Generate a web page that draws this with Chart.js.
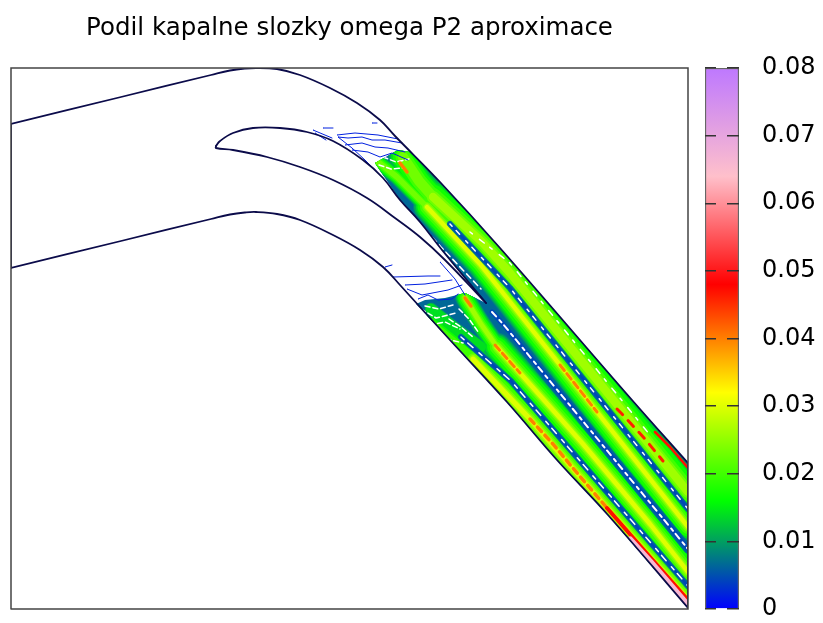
<!DOCTYPE html>
<html lang="en">
<head>
    <meta charset="UTF-8">
    <title>Podil kapalne slozky omega P2 aproximace</title>
    <script src="https://cdn.jsdelivr.net/npm/chart.js"></script>
    <style>
        body { margin: 0; background: #fff; }
        canvas { position: absolute; top: 0; }
        #plot { left: 0; }
        #colorbar { left: 690px; }
    </style>
</head>
<body>
<canvas id="plot" width="823" height="623"></canvas>
<canvas id="colorbar" width="133" height="623"></canvas>

<script>
    const chartTitle = 'Podil kapalne slozky omega P2 aproximace';

    // colour scale
    const paletteStops = [0, 0.016, 0.032, 0.048, 0.064, 0.08];
    const paletteColors = [[0, 0, 255], [0, 255, 0], [255, 255, 0], [255, 0, 0], [255, 192, 203], [190, 120, 255]];
    const scaleTicks = [0, 0.01, 0.02, 0.03, 0.04, 0.05, 0.06, 0.07, 0.08];

    // plot range, the picture has no axis numbers
    const rangeX = [0, 677];
    const rangeY = [0, 541];

    // geometry of the domain
    const topWall = [[0,485],[110,512],[200,534],[219,538.5],[234,540.5],[245,541],[266,540],[289,534],[319,521],[346,506],[369,489],[384,473],[429,427],[489,361],[621,209],[677,146]];
    const bottomWall = [[0,341],[110,368],[200,390],[219,394.5],[234,396.5],[245,397],[266,395],[289,389],[322,374],[349,359],[372,342],[389,324],[439,269],[496,207],[546,149],[597,94],[677,1]];
    const bladeTop = [[205,463],[209,468],[222,476],[242,481],[269,481],[296,477],[322,468],[352,449],[372,431],[389,409],[409,387],[431,359],[475,306]];
    const bladeBottom = [[475,306],[434,349],[409,372],[384,391],[356,411],[322,429],[289,442],[256,452],[222,459],[205,461],[205,463]];
    const inlet = [[0,485],[0,341]];
    const outlet = [[677,146],[677,1]];

    // part of the domain where the liquid fraction is not zero
    const wetZone = [[364,446],[387,459],[399,457],[429,427],[489,361],[621,209],[677,146],[677,1],[597,94],[546,149],[496,207],[439,269],[405,305],[414,309],[434,311],[454,316],[475,306],[431,359],[409,387],[389,409],[376,428],[364,446]];
    const wetValue = 0.0065;
    const troughValue = 0.0045;

    // ridges of the liquid fraction
    const ridge1Head = [[392,452],[408,428],[422,412]];
    const ridge1 = [[422,412],[472,366],[499,336],[677,117]];
    const ridge2Head = [[362,451],[386,432],[416,402]];
    const ridge2 = [[416,402],[469,345],[492,316],[677,82]];
    const ridge3Head = [[454,311],[470,285],[486,262]];
    const ridge3 = [[486,262],[572,165],[639,85],[677,37]];
    const ridge4Head = [[419,285],[440,268],[462,250]];
    const ridge4 = [[462,250],[519,190],[596,101],[677,9]];
    const ridgeMiddleHead = [[420,300],[445,280],[470,262]];

    const ridgePeaks = [0.027, 0.03, 0.03, 0.032];
    const headPeaks = [0.025, 0.024, 0.027, 0.02, 0.016];

    // hot streaks on the ridges
    const hotA = [[389,446],[396,437]];
    const hotB = [[454,311],[460,303]];
    const hotC = [[484,264],[509,236]];
    const hotD = [[549,244],[586,197]];
    const hotE = [[606,200],[611,195],[634,170],[652,148]];
    const hotF = [[519,190],[542,165],[561,142],[596,101]];
    const hotG = [[596,101],[632,60],[677,9]];
    const hotTopWall = [[644,177],[659,162],[677,141]];
    const hotCorner = [[619,69],[639,47],[677,3]];

    // holes between the contour lines
    const gapRidge1 = [[459,377],[499,346],[639,174]];
    const gap12 = [[439,385],[499,321],[677,100]];
    const gap23 = [[481,297],[492,285],[677,60]];
    const gap34 = [[450,272],[500,228],[677,23]];
    const gapBlade = [[380,415],[405,390],[430,362],[470,320]];
    const gapsHead = [
        [[372,452],[385,447],[398,450]],
        [[368,444],[380,440],[392,441]],
        [[410,300],[425,291],[445,296]],
        [[405,292],[418,284],[434,287],[449,280]],
        [[420,276],[436,270],[452,266]],
        [[438,290],[450,282],[462,272]],
        [[414,303],[428,300],[442,304]],
        [[448,300],[458,290],[468,276]]
    ];

    // loose low contours in front of the wet zone
    const contours = [
        [[326,474],[344,476],[367,474],[387,470]],
        [[327,472],[337,471],[351,472],[361,469],[374,469],[391,466]],
        [[327,472],[341,461],[354,449],[366,437]],
        [[334,464],[351,466],[364,462],[377,461],[394,457]],
        [[341,459],[357,457],[369,452],[381,456],[397,449]],
        [[312,481],[322,481]],
        [[302,479],[321,471]],
        [[304,476],[315,469]],
        [[361,486],[366,486]],
        [[374,342],[381,344]],
        [[382,332],[417,333],[429,333]],
        [[429,347],[444,330],[454,314]],
        [[394,324],[414,325],[441,329]],
        [[396,320],[411,314],[437,319],[451,324]],
        [[407,310],[417,314],[427,309],[441,310],[447,315]]
    ];

    const toPoints = pairs => pairs.map(p => ({ x: p[0], y: p[1] }));

    function rampColor(value) {
        let i = 0;
        while (i < paletteStops.length - 2 && value > paletteStops[i + 1]) i++;
        const t = (value - paletteStops[i]) / (paletteStops[i + 1] - paletteStops[i]);
        const c = paletteColors[i].map((a, k) => Math.round(a + (paletteColors[i + 1][k] - a) * t));
        return `rgb(${c[0]},${c[1]},${c[2]})`;
    }

    function line(pairs, color, width, extra) {
        return Object.assign({
            data: toPoints(pairs),
            showLine: true,
            borderColor: color,
            borderWidth: width,
            pointRadius: 0,
            tension: 0,
            fill: false,
            borderCapStyle: 'round',
            borderJoinStyle: 'round'
        }, extra || {});
    }

    const contourLevels = [0.008, 0.011, 0.014, 0.017, 0.02, 0.023, 0.026, 0.03, 0.034];
    const levelSpread = [1, 0.92, 0.8, 0.68, 0.5, 0.34, 0.23, 0.15, 0.08];

    const ridges = [
        { pairs: ridge1, peak: ridgePeaks[0], width: 36 },
        { pairs: ridge2, peak: ridgePeaks[1], width: 28 },
        { pairs: ridge3, peak: ridgePeaks[2], width: 29 },
        { pairs: ridge4, peak: ridgePeaks[3], width: 32 },
        { pairs: ridge1Head, peak: headPeaks[0], width: 30 },
        { pairs: ridge2Head, peak: headPeaks[1], width: 16 },
        { pairs: ridge3Head, peak: headPeaks[2], width: 20 },
        { pairs: ridge4Head, peak: headPeaks[3], width: 20 },
        { pairs: ridgeMiddleHead, peak: headPeaks[4], width: 13 }
    ];

    const datasets = [];
    datasets.push(line(wetZone, rampColor(wetValue), 0, { fill: 'shape', backgroundColor: rampColor(wetValue), wet: true }));

    // lowest level of all ridges first, so that they do not paint over each other
    contourLevels.forEach((level, i) => {
        ridges.forEach(r => {
            if (level <= r.peak) datasets.push(line(r.pairs, rampColor(level), r.width * levelSpread[i], { wet: true }));
        });
    });

    // blue valleys between the ridges
    datasets.push(line(gap12, rampColor(wetValue), 6, { wet: true }));
    datasets.push(line(gap23, rampColor(wetValue), 9, { wet: true }));
    datasets.push(line(gap34, rampColor(wetValue), 6, { wet: true }));
    datasets.push(line(gap12, rampColor(troughValue), 3, { wet: true }));
    datasets.push(line(gap23, rampColor(troughValue), 5, { wet: true }));
    datasets.push(line(gap34, rampColor(troughValue), 3, { wet: true }));

    datasets.push(line(gapRidge1, '#ffffff', 1.5, { borderDash: [3, 9, 6, 7], wet: true }));
    datasets.push(line(gap12, '#ffffff', 1.5, { borderDash: [3, 6, 5, 9], wet: true }));
    datasets.push(line(gap23, '#ffffff', 2, { borderDash: [6, 5, 3, 4], wet: true }));
    datasets.push(line(gap34, '#ffffff', 1.5, { borderDash: [4, 5, 7, 8], wet: true }));
    datasets.push(line(gapBlade, '#ffffff', 1.5, { borderDash: [6, 4], wet: true }));
    gapsHead.forEach(g => datasets.push(line(g, '#ffffff', 1.5, { borderDash: [5, 3], wet: true })));

    [hotA, hotB].forEach(h => datasets.push(line(h, rampColor(0.04), 3.5, { wet: true })));
    [hotC, hotD].forEach(h => datasets.push(line(h, rampColor(0.04), 3, { borderDash: [7, 4], wet: true })));
    datasets.push(line(hotE, rampColor(0.046), 3, { borderDash: [8, 8], wet: true }));
    datasets.push(line(hotF, rampColor(0.04), 3.5, { borderDash: [6, 5], wet: true }));
    datasets.push(line(hotG, rampColor(0.047), 4, { wet: true }));
    datasets.push(line(hotTopWall, rampColor(0.047), 2.5, { wet: true }));
    datasets.push(line(hotCorner, rampColor(0.066), 7, { wet: true }));

    contours.forEach(c => datasets.push(line(c, rampColor(0.002), 1)));

    [topWall, bottomWall, bladeTop, bladeBottom].forEach(w => datasets.push(line(w, '#0b0b4a', 1.8, { tension: 0.4 })));
    [inlet, outlet].forEach(w => datasets.push(line(w, '#0b0b4a', 1.8)));

    datasets.push(line([[rangeX[0], rangeY[0]], [rangeX[1], rangeY[0]], [rangeX[1], rangeY[1]], [rangeX[0], rangeY[1]], [rangeX[0], rangeY[0]]], '#444444', 1.5, { clip: false, borderJoinStyle: 'miter' }));

    // Chart.js paints the first dataset on top
    datasets.reverse();

    // keeps the thick ridge strokes inside the wet zone
    const wetClip = {
        id: 'wetClip',
        beforeDatasetDraw(chart, args) {
            if (!chart.data.datasets[args.index].wet) return;
            const { ctx, scales } = chart;
            ctx.save();
            ctx.beginPath();
            wetZone.forEach((p, i) => {
                const px = scales.x.getPixelForValue(p[0]);
                const py = scales.y.getPixelForValue(p[1]);
                if (i === 0) ctx.moveTo(px, py); else ctx.lineTo(px, py);
            });
            ctx.closePath();
            ctx.clip();
        },
        afterDatasetDraw(chart, args) {
            if (chart.data.datasets[args.index].wet) chart.ctx.restore();
        }
    };

    new Chart(document.getElementById('plot'), {
        type: 'scatter',
        data: { datasets: datasets },
        plugins: [wetClip],
        options: {
            responsive: false,
            animation: false,
            layout: { padding: { left: 11, right: 135, bottom: 14 } },
            plugins: {
                legend: { display: false },
                tooltip: { enabled: false },
                title: {
                    display: true,
                    text: chartTitle,
                    fullSize: false,
                    color: '#000',
                    font: { family: 'DejaVu Sans', size: 24.5, weight: 'normal' },
                    padding: { top: 14, bottom: 24.6 }
                }
            },
            scales: {
                x: { type: 'linear', display: false, min: rangeX[0], max: rangeX[1] },
                y: { type: 'linear', display: false, min: rangeY[0], max: rangeY[1] }
            }
        }
    });

    new Chart(document.getElementById('colorbar'), {
        type: 'bar',
        data: {
            labels: ['omega'],
            datasets: [{
                data: [[scaleTicks[0], scaleTicks[scaleTicks.length - 1]]],
                barPercentage: 1,
                categoryPercentage: 1,
                borderColor: '#666666',
                borderWidth: 1.5,
                backgroundColor(context) {
                    const area = context.chart.chartArea;
                    if (!area) return '#fff';
                    const scale = context.chart.scales.y;
                    const g = context.chart.ctx.createLinearGradient(0, area.bottom, 0, area.top);
                    paletteStops.forEach((s, i) => {
                        const c = paletteColors[i];
                        g.addColorStop((scale.getPixelForValue(s) - area.bottom) / (area.top - area.bottom), `rgb(${c[0]},${c[1]},${c[2]})`);
                    });
                    return g;
                }
            }]
        },
        options: {
            responsive: false,
            animation: false,
            layout: { padding: { left: 15, top: 68, bottom: 14 } },
            plugins: { legend: { display: false }, tooltip: { enabled: false } },
            scales: {
                x: { display: false },
                y: {
                    position: 'right',
                    min: scaleTicks[0],
                    max: scaleTicks[scaleTicks.length - 1],
                    afterFit(scale) { scale.width = 84; scale.paddingTop = 0; scale.paddingBottom = 0; },
                    afterBuildTicks(scale) { scale.ticks = scaleTicks.map(v => ({ value: v })); },
                    border: { display: false, dash: [11, 11, 12] },
                    grid: { z: 1, color: '#333333', lineWidth: 1.5, drawTicks: false },
                    ticks: {
                        color: '#000',
                        padding: 23,
                        crossAlign: 'near',
                        font: { family: 'DejaVu Sans', size: 24 },
                        callback: value => String(value)
                    }
                }
            }
        }
    });
</script>
</body>
</html>
